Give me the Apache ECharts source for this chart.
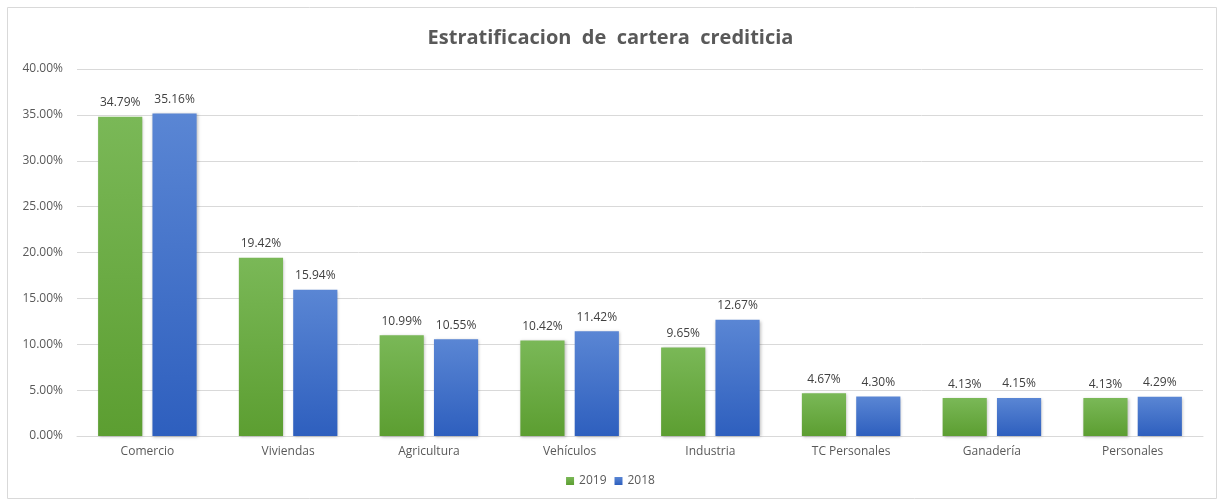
<!DOCTYPE html>
<html>
<head>
<meta charset="utf-8">
<script src="https://cdn.jsdelivr.net/npm/echarts@6/dist/echarts.min.js"></script>
<style>
  html, body { margin: 0; padding: 0; background: #fff; }
  #main { width: 1221px; height: 504px; }
</style>
</head>
<body>
<div id="main"></div>
<script>
var categories = ['Comercio', 'Viviendas', 'Agricultura', 'Vehículos', 'Industria', 'TC Personales', 'Ganadería', 'Personales'];
var values2019 = [34.79, 19.42, 10.99, 10.42, 9.65, 4.67, 4.13, 4.13];
var values2018 = [35.16, 15.94, 10.55, 11.42, 12.67, 4.30, 4.15, 4.29];
var yTicks = [0, 5, 10, 15, 20, 25, 30, 35, 40];

var font = '"Open Sans", sans-serif';

function grad(top, bottom) {
    return new echarts.graphic.LinearGradient(0, 0, 0, 1, [
        { offset: 0, color: top },
        { offset: 1, color: bottom }
    ]);
}

var chart = echarts.init(document.getElementById('main'));

chart.setOption({
    animation: false,
    title: {
        text: 'Estratificacion  de  cartera  crediticia',
        left: 'center',
        top: 23,
        textStyle: { fontFamily: font, fontSize: 20, fontWeight: 'bold', color: '#595959' }
    },
    graphic: [{
        type: 'rect',
        shape: { x: 7.5, y: 7.5, width: 1209, height: 491 },
        style: { fill: 'none', stroke: '#d9d9d9', lineWidth: 1 },
        silent: true
    }],
    legend: {
        bottom: 12,
        left: 'center',
        itemWidth: 8,
        itemHeight: 8,
        itemGap: 8,
        icon: 'rect',
        textStyle: { fontFamily: font, fontSize: 12, color: '#595959' },
        data: ['2019', '2018']
    },
    grid: { left: 77, right: 18, top: 69, bottom: 68 },
    xAxis: {
        type: 'category',
        data: categories,
        axisTick: { show: false },
        axisLine: { lineStyle: { color: '#d9d9d9' } },
        axisLabel: { fontFamily: font, fontSize: 12, color: '#595959', margin: 10 }
    },
    yAxis: {
        type: 'value',
        min: yTicks[0],
        max: yTicks[yTicks.length - 1],
        interval: 5,
        axisLine: { show: false },
        axisTick: { show: false },
        splitLine: { lineStyle: { color: '#d9d9d9' } },
        axisLabel: {
            fontFamily: font, fontSize: 12, color: '#595959', margin: 14,
            formatter: function (v) { return v.toFixed(2) + '%'; }
        }
    },
    series: [{
        name: '2019',
        type: 'bar',
        data: values2019,
        barGap: '23%',
        barCategoryGap: '30%',
        itemStyle: {
            color: grad('#7ab857', '#5c9e31'),
            shadowColor: 'rgba(0,0,0,0.25)', shadowBlur: 3, shadowOffsetX: 1, shadowOffsetY: 1
        },
        label: {
            show: true, position: 'top', distance: 8,
            fontFamily: font, fontSize: 12, color: '#404040',
            formatter: function (p) { return p.value.toFixed(2) + '%'; }
        }
    }, {
        name: '2018',
        type: 'bar',
        data: values2018,
        itemStyle: {
            color: grad('#5a86d4', '#2e5fbe'),
            shadowColor: 'rgba(0,0,0,0.25)', shadowBlur: 3, shadowOffsetX: 1, shadowOffsetY: 1
        },
        label: {
            show: true, position: 'top', distance: 8,
            fontFamily: font, fontSize: 12, color: '#404040',
            formatter: function (p) { return p.value.toFixed(2) + '%'; }
        }
    }]
});
</script>
</body>
</html>
